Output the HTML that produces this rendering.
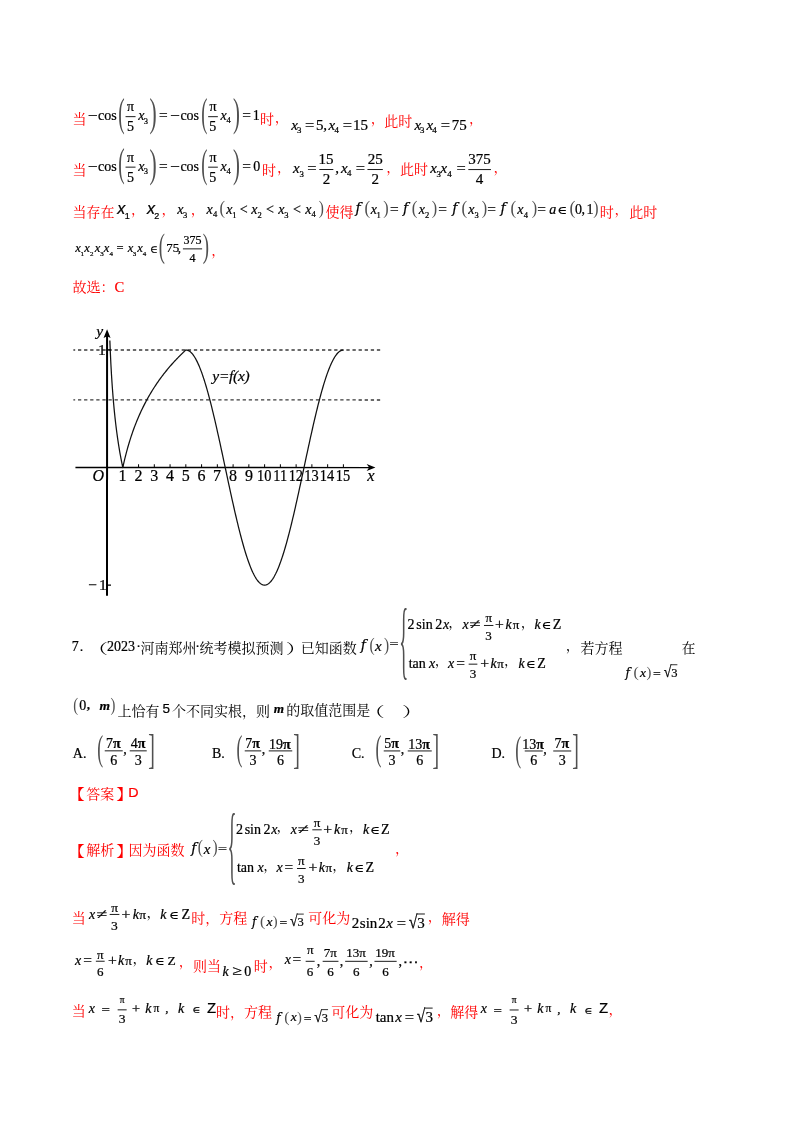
<!DOCTYPE html>
<html><head><meta charset="utf-8"><title>math</title>
<style>
html,body{margin:0;padding:0;background:#fff;}
body{width:800px;height:1132px;overflow:hidden;}
svg{display:block;}
text{fill:#000;}
.m,.mi,.mb,.mbi,.mx,.mxi,.s,.si,.dsans{stroke:#000;stroke-width:0.22px;}
.m,.mb,.mi{font-family:"Liberation Serif","DejaVu Serif",serif;}
.mi{font-style:italic;}
.mb{font-weight:bold;}
.mbi{font-family:"Liberation Serif","DejaVu Serif",serif;font-weight:bold;font-style:italic;}
.mx{font-family:"DejaVu Serif","Liberation Serif",serif;}
.dsans{font-family:"DejaVu Sans",sans-serif;}
.mxi{font-family:"DejaVu Serif",serif;font-style:italic;}
.s{font-family:"Liberation Sans",sans-serif;}
.si{font-family:"Liberation Sans",sans-serif;font-style:italic;}
.c{font-family:"Liberation Serif","Noto Serif CJK SC",serif;}
.c,.cs{stroke:none !important;}
.cs{font-family:"Liberation Sans","Noto Sans CJK SC",sans-serif;}
</style></head><body>
<svg width="800" height="1132" viewBox="0 0 800 1132">
<rect width="800" height="1132" fill="#fff"/>
<g transform="rotate(0.02)">
<text x="72.49" y="124.46" font-size="14" class="c" style="fill:#f00;stroke:#f00">当</text>
<text transform="translate(88.12,120.00) scale(1.25,1)" x="0" y="0" font-size="14" class="m">−</text>
<text x="98.04" y="120.00" font-size="14" class="m">cos</text>
<text transform="translate(118.23,98.80) scale(1.068,2.185)" x="0" y="12.42" font-size="18" class="m" style="fill:#505050;stroke:none">(</text>
<line x1="125.60" y1="116.60" x2="135.60" y2="116.60" stroke="#000" stroke-width="0.9"/>
<text x="127.10" y="111.04" font-size="14"><tspan class="m">π</tspan></text>
<text x="126.96" y="131.06" font-size="14" class="m">5</text>
<text x="138.34" y="120.00" font-size="14" class="mi">x</text>
<text x="143.77" y="123.52" font-size="8.5" class="m">3</text>
<text transform="translate(149.55,98.60) scale(1.197,2.222)" x="0" y="12.42" font-size="18" class="m" style="fill:#505050;stroke:none">)</text>
<text transform="translate(159.03,120.00) scale(1.1,1)" x="0" y="0" font-size="14" class="m">=</text>
<text transform="translate(170.32,120.00) scale(1.25,1)" x="0" y="0" font-size="14" class="m">−</text>
<text x="180.44" y="120.00" font-size="14" class="m">cos</text>
<text transform="translate(201.26,99.00) scale(1.026,2.185)" x="0" y="12.42" font-size="18" class="m" style="fill:#505050;stroke:none">(</text>
<line x1="208.20" y1="116.60" x2="217.90" y2="116.60" stroke="#000" stroke-width="0.9"/>
<text x="209.55" y="111.04" font-size="14"><tspan class="m">π</tspan></text>
<text x="209.41" y="131.06" font-size="14" class="m">5</text>
<text x="220.64" y="120.00" font-size="14" class="mi">x</text>
<text x="226.63" y="123.40" font-size="8.5" class="m">4</text>
<text transform="translate(232.98,99.00) scale(1.154,2.185)" x="0" y="12.42" font-size="18" class="m" style="fill:#505050;stroke:none">)</text>
<text transform="translate(242.23,120.00) scale(1.1,1)" x="0" y="0" font-size="14" class="m">=</text>
<text x="252.74" y="120.00" font-size="14" class="m">1</text>
<text x="259.98" y="124.42" font-size="14" class="c" style="fill:#f00;stroke:#f00">时</text>
<text x="274.88" y="121.68" font-size="14" class="c" style="fill:#f00;stroke:#f00">，</text>
<text x="72.49" y="174.96" font-size="14" class="c" style="fill:#f00;stroke:#f00">当</text>
<text transform="translate(88.12,170.50) scale(1.25,1)" x="0" y="0" font-size="14" class="m">−</text>
<text x="98.04" y="170.50" font-size="14" class="m">cos</text>
<text transform="translate(118.23,149.30) scale(1.068,2.185)" x="0" y="12.42" font-size="18" class="m" style="fill:#505050;stroke:none">(</text>
<line x1="125.60" y1="167.10" x2="135.60" y2="167.10" stroke="#000" stroke-width="0.9"/>
<text x="127.10" y="161.54" font-size="14"><tspan class="m">π</tspan></text>
<text x="126.96" y="181.56" font-size="14" class="m">5</text>
<text x="138.34" y="170.50" font-size="14" class="mi">x</text>
<text x="143.77" y="174.01" font-size="8.5" class="m">3</text>
<text transform="translate(149.55,149.10) scale(1.197,2.222)" x="0" y="12.42" font-size="18" class="m" style="fill:#505050;stroke:none">)</text>
<text transform="translate(159.03,170.50) scale(1.1,1)" x="0" y="0" font-size="14" class="m">=</text>
<text transform="translate(170.32,170.50) scale(1.25,1)" x="0" y="0" font-size="14" class="m">−</text>
<text x="180.44" y="170.50" font-size="14" class="m">cos</text>
<text transform="translate(201.26,149.50) scale(1.026,2.185)" x="0" y="12.42" font-size="18" class="m" style="fill:#505050;stroke:none">(</text>
<line x1="208.20" y1="167.10" x2="217.90" y2="167.10" stroke="#000" stroke-width="0.9"/>
<text x="209.55" y="161.54" font-size="14"><tspan class="m">π</tspan></text>
<text x="209.41" y="181.56" font-size="14" class="m">5</text>
<text x="220.64" y="170.50" font-size="14" class="mi">x</text>
<text x="226.63" y="173.90" font-size="8.5" class="m">4</text>
<text transform="translate(232.98,149.50) scale(1.154,2.185)" x="0" y="12.42" font-size="18" class="m" style="fill:#505050;stroke:none">)</text>
<text transform="translate(242.23,170.50) scale(1.1,1)" x="0" y="0" font-size="14" class="m">=</text>
<text x="253.24" y="170.50" font-size="14" class="m">0</text>
<text x="261.98" y="174.92" font-size="14" class="c" style="fill:#f00;stroke:#f00">时</text>
<text x="276.98" y="172.18" font-size="14" class="c" style="fill:#f00;stroke:#f00">，</text>
<text x="291.35" y="129.70" font-size="15" class="mi">x</text>
<text x="297.16" y="132.51" font-size="8.8" class="m">3</text>
<text transform="translate(304.98,129.70) scale(1.1,1)" x="0" y="0" font-size="15" class="m">=</text>
<text x="316.10" y="129.70" font-size="15" class="m">5</text>
<text x="323.20" y="129.70" font-size="15" class="m">,</text>
<text x="328.55" y="129.70" font-size="15" class="mi">x</text>
<text x="334.62" y="132.80" font-size="8.8" class="m">4</text>
<text transform="translate(342.68,129.70) scale(1.1,1)" x="0" y="0" font-size="15" class="m">=</text>
<text x="352.95" y="129.70" font-size="15" class="m">15</text>
<text x="370.68" y="122.48" font-size="14" class="c" style="fill:#f00;stroke:#f00">，</text>
<text x="384.24" y="125.96" font-size="14" class="c" style="fill:#f00;stroke:#f00">此时</text>
<text x="414.55" y="129.70" font-size="15" class="mi">x</text>
<text x="420.16" y="132.61" font-size="8.8" class="m">3</text>
<text x="426.45" y="129.70" font-size="15" class="mi">x</text>
<text x="432.32" y="133.00" font-size="8.8" class="m">4</text>
<text transform="translate(440.78,129.70) scale(1.1,1)" x="0" y="0" font-size="15" class="m">=</text>
<text x="451.70" y="129.70" font-size="15" class="m">75</text>
<text x="468.98" y="122.48" font-size="14" class="c" style="fill:#f00;stroke:#f00">，</text>
<text x="293.05" y="173.00" font-size="15" class="mi">x</text>
<text x="299.56" y="176.51" font-size="8.8" class="m">3</text>
<text transform="translate(307.38,173.00) scale(1.1,1)" x="0" y="0" font-size="15" class="m">=</text>
<line x1="319.40" y1="169.40" x2="333.40" y2="169.40" stroke="#000" stroke-width="0.9"/>
<text x="318.52" y="163.85" font-size="15" class="m">15</text>
<text x="322.72" y="183.90" font-size="15" class="m">2</text>
<text x="335.40" y="173.00" font-size="15" class="m">,</text>
<text x="341.15" y="173.00" font-size="15" class="mi">x</text>
<text x="347.12" y="175.90" font-size="8.8" class="m">4</text>
<text transform="translate(355.88,173.00) scale(1.1,1)" x="0" y="0" font-size="15" class="m">=</text>
<line x1="367.50" y1="169.40" x2="382.90" y2="169.40" stroke="#000" stroke-width="0.9"/>
<text x="367.70" y="163.85" font-size="15" class="m">25</text>
<text x="371.52" y="183.80" font-size="15" class="m">2</text>
<text x="386.38" y="172.28" font-size="14" class="c" style="fill:#f00;stroke:#f00">，</text>
<text x="400.04" y="173.56" font-size="14" class="c" style="fill:#f00;stroke:#f00">此时</text>
<text x="430.35" y="173.00" font-size="15" class="mi">x</text>
<text x="436.46" y="176.41" font-size="8.8" class="m">3</text>
<text x="440.55" y="173.00" font-size="15" class="mi">x</text>
<text x="447.42" y="176.80" font-size="8.8" class="m">4</text>
<text transform="translate(456.48,173.00) scale(1.1,1)" x="0" y="0" font-size="15" class="m">=</text>
<line x1="468.40" y1="169.40" x2="491.00" y2="169.40" stroke="#000" stroke-width="0.9"/>
<text x="468.38" y="163.80" font-size="15" class="m">375</text>
<text x="475.88" y="183.70" font-size="15" class="m">4</text>
<text x="493.68" y="172.28" font-size="14" class="c" style="fill:#f00;stroke:#f00">，</text>
<text x="72.64" y="216.96" font-size="14" class="c" style="fill:#f00;stroke:#f00">当存在</text>
<text x="117.44" y="214.00" font-size="16" class="si">x</text>
<text x="124.78" y="218.50" font-size="9" class="s">1</text>
<text x="131.08" y="214.28" font-size="14" class="c" style="fill:#f00;stroke:#f00">，</text>
<text x="147.14" y="214.00" font-size="16" class="si">x</text>
<text x="154.25" y="218.50" font-size="9" class="s">2</text>
<text x="161.48" y="214.28" font-size="14" class="c" style="fill:#f00;stroke:#f00">，</text>
<text x="177.24" y="213.90" font-size="14" class="mi">x</text>
<text x="183.17" y="217.51" font-size="8.5" class="m">3</text>
<text x="190.88" y="213.88" font-size="14" class="c" style="fill:#f00;stroke:#f00">，</text>
<text x="206.54" y="213.90" font-size="14" class="mi">x</text>
<text x="213.13" y="217.20" font-size="8.5" class="m">4</text>
<text transform="translate(219.64,200.20) scale(1.034,1.215)" x="0" y="11.04" font-size="16" class="m" style="fill:#505050;stroke:none">(</text>
<text x="226.24" y="213.90" font-size="14" class="mi">x</text>
<text x="232.24" y="217.60" font-size="8.5" class="m">1</text>
<text x="239.90" y="213.90" font-size="14" class="m">&lt;</text>
<text x="251.34" y="213.90" font-size="14" class="mi">x</text>
<text x="257.46" y="217.60" font-size="8.5" class="m">2</text>
<text x="266.10" y="213.90" font-size="14" class="m">&lt;</text>
<text x="278.34" y="213.90" font-size="14" class="mi">x</text>
<text x="284.38" y="217.51" font-size="8.5" class="m">3</text>
<text x="293.10" y="213.90" font-size="14" class="m">&lt;</text>
<text x="305.34" y="213.90" font-size="14" class="mi">x</text>
<text x="311.63" y="217.40" font-size="8.5" class="m">4</text>
<text transform="translate(318.74,200.20) scale(0.962,1.215)" x="0" y="11.04" font-size="16" class="m" style="fill:#505050;stroke:none">)</text>
<text x="325.64" y="216.96" font-size="14" class="c" style="fill:#f00;stroke:#f00">使得</text>
<text x="355.64" y="212.64" font-size="14" class="mxi">f</text>
<text transform="translate(364.52,200.20) scale(1.058,1.215)" x="0" y="11.04" font-size="16" class="m" style="fill:#505050;stroke:none">(</text>
<text x="370.74" y="213.90" font-size="14" class="mi">x</text>
<text x="376.54" y="217.50" font-size="8.5" class="m">1</text>
<text transform="translate(383.32,200.20) scale(1.010,1.215)" x="0" y="11.04" font-size="16" class="m" style="fill:#505050;stroke:none">)</text>
<text x="403.04" y="212.64" font-size="14" class="mxi">f</text>
<text transform="translate(411.92,200.20) scale(1.058,1.215)" x="0" y="11.04" font-size="16" class="m" style="fill:#505050;stroke:none">(</text>
<text x="418.84" y="213.90" font-size="14" class="mi">x</text>
<text x="425.06" y="217.50" font-size="8.5" class="m">2</text>
<text transform="translate(431.72,200.20) scale(1.010,1.215)" x="0" y="11.04" font-size="16" class="m" style="fill:#505050;stroke:none">)</text>
<text x="452.44" y="212.64" font-size="14" class="mxi">f</text>
<text transform="translate(461.52,200.20) scale(1.058,1.215)" x="0" y="11.04" font-size="16" class="m" style="fill:#505050;stroke:none">(</text>
<text x="468.34" y="213.90" font-size="14" class="mi">x</text>
<text x="474.47" y="217.41" font-size="8.5" class="m">3</text>
<text transform="translate(481.72,200.20) scale(1.010,1.215)" x="0" y="11.04" font-size="16" class="m" style="fill:#505050;stroke:none">)</text>
<text x="500.64" y="212.64" font-size="14" class="mxi">f</text>
<text transform="translate(510.52,200.20) scale(1.058,1.215)" x="0" y="11.04" font-size="16" class="m" style="fill:#505050;stroke:none">(</text>
<text x="517.34" y="213.90" font-size="14" class="mi">x</text>
<text x="523.73" y="217.50" font-size="8.5" class="m">4</text>
<text transform="translate(531.72,200.20) scale(1.010,1.215)" x="0" y="11.04" font-size="16" class="m" style="fill:#505050;stroke:none">)</text>
<text transform="translate(390.03,213.90) scale(1.1,1)" x="0" y="0" font-size="14" class="m">=</text>
<text transform="translate(438.43,213.90) scale(1.1,1)" x="0" y="0" font-size="14" class="m">=</text>
<text transform="translate(487.43,213.90) scale(1.1,1)" x="0" y="0" font-size="14" class="m">=</text>
<text transform="translate(537.43,213.90) scale(1.1,1)" x="0" y="0" font-size="14" class="m">=</text>
<text x="549.28" y="213.90" font-size="14" class="mi">a</text>
<text transform="translate(557.58,213.90) scale(1.15,1)" x="0" y="0" font-size="11.5" class="mx">∈</text>
<text transform="translate(569.49,200.20) scale(1.106,1.215)" x="0" y="11.04" font-size="16" class="m" style="fill:#505050;stroke:none">(</text>
<text x="575.04" y="213.90" font-size="14" class="m">0</text>
<text x="581.64" y="213.90" font-size="14" class="m">,</text>
<text x="586.54" y="213.90" font-size="14" class="m">1</text>
<text transform="translate(593.43,200.20) scale(0.986,1.215)" x="0" y="11.04" font-size="16" class="m" style="fill:#505050;stroke:none">)</text>
<text x="599.78" y="217.02" font-size="14" class="c" style="fill:#f00;stroke:#f00">时</text>
<text x="614.68" y="214.28" font-size="14" class="c" style="fill:#f00;stroke:#f00">，</text>
<text x="629.24" y="217.16" font-size="14" class="c" style="fill:#f00;stroke:#f00">此时</text>
<text x="75.33" y="252.30" font-size="12.5" class="mi">x</text>
<text x="80.57" y="255.60" font-size="7" class="m">1</text>
<text x="84.42" y="252.30" font-size="12.5" class="mi">x</text>
<text x="90.02" y="255.60" font-size="7" class="m">2</text>
<text x="94.72" y="252.30" font-size="12.5" class="mi">x</text>
<text x="100.25" y="255.53" font-size="7" class="m">3</text>
<text x="103.83" y="252.30" font-size="12.5" class="mi">x</text>
<text x="109.56" y="255.60" font-size="7" class="m">4</text>
<text x="116.58" y="252.30" font-size="12.5" class="m">=</text>
<text x="127.83" y="252.30" font-size="12.5" class="mi">x</text>
<text x="132.85" y="255.53" font-size="7" class="m">3</text>
<text x="137.32" y="252.30" font-size="12.5" class="mi">x</text>
<text x="142.86" y="255.60" font-size="7" class="m">4</text>
<text x="150.15" y="252.60" font-size="10.5" class="mx">∈</text>
<text transform="translate(158.86,233.20) scale(1.154,2.167)" x="0" y="11.04" font-size="16" class="m" style="fill:#505050;stroke:none">(</text>
<text x="166.22" y="252.30" font-size="13" class="m">75</text>
<text x="177.78" y="252.30" font-size="13" class="m">,</text>
<line x1="183.00" y1="248.80" x2="202.20" y2="248.80" stroke="#000" stroke-width="0.9"/>
<text x="183.54" y="243.82" font-size="12" class="m">375</text>
<text x="189.54" y="261.90" font-size="12" class="m">4</text>
<text transform="translate(202.73,233.20) scale(1.178,2.167)" x="0" y="11.04" font-size="16" class="m" style="fill:#505050;stroke:none">)</text>
<text x="211.38" y="255.28" font-size="14" class="c" style="fill:#f00;stroke:#f00">，</text>
<text x="72.64" y="292.46" font-size="14" class="c" style="fill:#f00;stroke:#f00">故选：</text>
<text x="114.62" y="291.77" font-size="14.5" class="m" style="fill:#f00;stroke:#f00">C</text>
<line x1="73.5" y1="349.9" x2="380.8" y2="349.9" stroke="#3a3a3a" stroke-width="1.4" stroke-dasharray="3.3 2.8" stroke-dashoffset="1.5"/>
<line x1="73.5" y1="399.8" x2="380.8" y2="399.8" stroke="#3a3a3a" stroke-width="1.4" stroke-dasharray="3.3 2.8" stroke-dashoffset="1.5"/>
<line x1="107.2" y1="595.8" x2="107.2" y2="335" stroke="#000" stroke-width="2"/>
<path d="M107.2 329.3 L110.7 338 L107.2 336.3 L103.7 338 Z" fill="#000"/>
<line x1="75.6" y1="467.45" x2="372" y2="467.45" stroke="#000" stroke-width="1.4"/>
<path d="M375.6 467.45 L366.8 463.95 L369.3 467.45 L366.8 470.95 Z" fill="#000"/>
<line x1="122.96" y1="464.15" x2="122.96" y2="467.45" stroke="#000" stroke-width="1"/>
<line x1="138.71" y1="464.15" x2="138.71" y2="467.45" stroke="#000" stroke-width="1"/>
<line x1="154.47" y1="464.15" x2="154.47" y2="467.45" stroke="#000" stroke-width="1"/>
<line x1="170.23" y1="464.15" x2="170.23" y2="467.45" stroke="#000" stroke-width="1"/>
<line x1="185.99" y1="464.15" x2="185.99" y2="467.45" stroke="#000" stroke-width="1"/>
<line x1="201.74" y1="464.15" x2="201.74" y2="467.45" stroke="#000" stroke-width="1"/>
<line x1="217.50" y1="464.15" x2="217.50" y2="467.45" stroke="#000" stroke-width="1"/>
<line x1="233.26" y1="464.15" x2="233.26" y2="467.45" stroke="#000" stroke-width="1"/>
<line x1="249.01" y1="464.15" x2="249.01" y2="467.45" stroke="#000" stroke-width="1"/>
<line x1="264.77" y1="464.15" x2="264.77" y2="467.45" stroke="#000" stroke-width="1"/>
<line x1="280.53" y1="464.15" x2="280.53" y2="467.45" stroke="#000" stroke-width="1"/>
<line x1="296.29" y1="464.15" x2="296.29" y2="467.45" stroke="#000" stroke-width="1"/>
<line x1="312.04" y1="464.15" x2="312.04" y2="467.45" stroke="#000" stroke-width="1"/>
<line x1="327.80" y1="464.15" x2="327.80" y2="467.45" stroke="#000" stroke-width="1"/>
<line x1="343.56" y1="464.15" x2="343.56" y2="467.45" stroke="#000" stroke-width="1"/>
<line x1="107.2" y1="585.1" x2="111.2" y2="585.1" stroke="#000" stroke-width="1.3"/>
<line x1="107.2" y1="349.9" x2="111.2" y2="349.9" stroke="#000" stroke-width="1.3"/>
<path d="M109.97 340.56 L110.24 347.23 L110.50 353.34 L110.77 358.97 L111.03 364.20 L111.30 369.09 L111.56 373.66 L111.83 377.97 L112.09 382.03 L112.36 385.89 L112.62 389.54 L112.89 393.03 L113.15 396.35 L113.42 399.54 L113.68 402.58 L113.95 405.51 L114.21 408.32 L114.48 411.03 L114.74 413.64 L115.01 416.17 L115.27 418.60 L115.54 420.96 L115.80 423.25 L116.07 425.46 L116.33 427.61 L116.60 429.70 L116.86 431.73 L117.13 433.71 L117.39 435.63 L117.66 437.51 L117.92 439.33 L118.19 441.12 L118.45 442.86 L118.72 444.56 L118.98 446.22 L119.25 447.84 L119.51 449.43 L119.78 450.99 L120.04 452.51 L120.31 454.00 L120.57 455.46 L120.84 456.90 L121.10 458.30 L121.37 459.68 L121.63 461.04 L121.90 462.36 L122.16 463.67 L122.43 464.95 L122.69 466.21 L122.96 467.45 L123.59 464.56 L124.23 461.77 L124.87 459.09 L125.50 456.51 L126.14 454.01 L126.78 451.60 L127.41 449.26 L128.05 446.99 L128.69 444.80 L129.32 442.66 L129.96 440.59 L130.60 438.58 L131.23 436.62 L131.87 434.71 L132.51 432.85 L133.14 431.03 L133.78 429.26 L134.42 427.53 L135.05 425.84 L135.69 424.19 L136.33 422.58 L136.96 421.00 L137.60 419.45 L138.24 417.94 L138.87 416.46 L139.51 415.00 L140.15 413.58 L140.78 412.18 L141.42 410.81 L142.06 409.46 L142.69 408.14 L143.33 406.84 L143.97 405.57 L144.60 404.31 L145.24 403.08 L145.88 401.87 L146.51 400.67 L147.15 399.50 L147.79 398.35 L148.42 397.21 L149.06 396.09 L149.70 394.99 L150.33 393.90 L150.97 392.83 L151.61 391.78 L152.24 390.74 L152.88 389.71 L153.52 388.70 L154.15 387.70 L154.79 386.72 L155.43 385.75 L156.06 384.79 L156.70 383.85 L157.34 382.91 L157.97 381.99 L158.61 381.08 L159.25 380.18 L159.88 379.29 L160.52 378.42 L161.16 377.55 L161.79 376.69 L162.43 375.85 L163.07 375.01 L163.70 374.18 L164.34 373.36 L164.98 372.55 L165.61 371.75 L166.25 370.96 L166.89 370.18 L167.52 369.40 L168.16 368.64 L168.80 367.88 L169.43 367.13 L170.07 366.38 L170.71 365.65 L171.34 364.92 L171.98 364.20 L172.62 363.48 L173.25 362.78 L173.89 362.07 L174.53 361.38 L175.16 360.69 L175.80 360.01 L176.44 359.34 L177.07 358.67 L177.71 358.01 L178.35 357.35 L178.98 356.70 L179.62 356.05 L180.26 355.41 L180.89 354.78 L181.53 354.15 L182.17 353.53 L182.80 352.91 L183.44 352.30 L184.08 351.69 L184.71 351.09 L185.35 350.49 L185.99 349.90 L186.62 349.94 L187.25 350.05 L187.88 350.24 L188.52 350.50 L189.15 350.83 L189.78 351.24 L190.42 351.73 L191.05 352.29 L191.68 352.92 L192.31 353.62 L192.95 354.40 L193.58 355.25 L194.21 356.17 L194.85 357.16 L195.48 358.22 L196.11 359.35 L196.74 360.55 L197.38 361.82 L198.01 363.15 L198.64 364.55 L199.27 366.02 L199.91 367.55 L200.54 369.15 L201.17 370.81 L201.81 372.52 L202.44 374.30 L203.07 376.14 L203.70 378.04 L204.34 379.99 L204.97 382.00 L205.60 384.07 L206.24 386.18 L206.87 388.35 L207.50 390.57 L208.13 392.84 L208.77 395.16 L209.40 397.52 L210.03 399.92 L210.67 402.37 L211.30 404.86 L211.93 407.40 L212.56 409.96 L213.20 412.57 L213.83 415.21 L214.46 417.88 L215.10 420.59 L215.73 423.32 L216.36 426.09 L216.99 428.88 L217.63 431.69 L218.26 434.53 L218.89 437.38 L219.53 440.26 L220.16 443.16 L220.79 446.06 L221.42 448.99 L222.06 451.92 L222.69 454.87 L223.32 457.82 L223.95 460.78 L224.59 463.74 L225.22 466.71 L225.85 469.67 L226.49 472.64 L227.12 475.60 L227.75 478.56 L228.38 481.51 L229.02 484.45 L229.65 487.38 L230.28 490.29 L230.92 493.19 L231.55 496.08 L232.18 498.95 L232.81 501.79 L233.45 504.62 L234.08 507.42 L234.71 510.20 L235.35 512.95 L235.98 515.67 L236.61 518.36 L237.24 521.01 L237.88 523.64 L238.51 526.23 L239.14 528.77 L239.78 531.29 L240.41 533.76 L241.04 536.18 L241.67 538.57 L242.31 540.91 L242.94 543.20 L243.57 545.44 L244.20 547.64 L244.84 549.78 L245.47 551.87 L246.10 553.91 L246.74 555.89 L247.37 557.82 L248.00 559.68 L248.63 561.49 L249.27 563.24 L249.90 564.93 L250.53 566.56 L251.17 568.12 L251.80 569.62 L252.43 571.05 L253.06 572.42 L253.70 573.72 L254.33 574.96 L254.96 576.12 L255.60 577.22 L256.23 578.25 L256.86 579.20 L257.49 580.09 L258.13 580.90 L258.76 581.64 L259.39 582.31 L260.03 582.90 L260.66 583.42 L261.29 583.87 L261.92 584.24 L262.56 584.54 L263.19 584.77 L263.82 584.92 L264.46 584.99 L265.09 584.99 L265.72 584.92 L266.35 584.77 L266.99 584.54 L267.62 584.24 L268.25 583.87 L268.88 583.42 L269.52 582.90 L270.15 582.31 L270.78 581.64 L271.42 580.90 L272.05 580.09 L272.68 579.20 L273.31 578.25 L273.95 577.22 L274.58 576.12 L275.21 574.96 L275.85 573.72 L276.48 572.42 L277.11 571.05 L277.74 569.62 L278.38 568.12 L279.01 566.56 L279.64 564.93 L280.28 563.24 L280.91 561.49 L281.54 559.68 L282.17 557.82 L282.81 555.89 L283.44 553.91 L284.07 551.87 L284.71 549.78 L285.34 547.64 L285.97 545.44 L286.60 543.20 L287.24 540.91 L287.87 538.57 L288.50 536.18 L289.13 533.76 L289.77 531.29 L290.40 528.77 L291.03 526.22 L291.67 523.64 L292.30 521.01 L292.93 518.36 L293.56 515.67 L294.20 512.95 L294.83 510.20 L295.46 507.42 L296.10 504.62 L296.73 501.79 L297.36 498.95 L297.99 496.08 L298.63 493.19 L299.26 490.29 L299.89 487.38 L300.53 484.45 L301.16 481.51 L301.79 478.56 L302.42 475.60 L303.06 472.64 L303.69 469.67 L304.32 466.71 L304.96 463.74 L305.59 460.78 L306.22 457.82 L306.85 454.87 L307.49 451.92 L308.12 448.99 L308.75 446.06 L309.39 443.16 L310.02 440.26 L310.65 437.38 L311.28 434.53 L311.92 431.69 L312.55 428.88 L313.18 426.09 L313.81 423.32 L314.45 420.59 L315.08 417.88 L315.71 415.21 L316.35 412.57 L316.98 409.96 L317.61 407.40 L318.24 404.86 L318.88 402.37 L319.51 399.92 L320.14 397.52 L320.78 395.16 L321.41 392.84 L322.04 390.57 L322.67 388.35 L323.31 386.18 L323.94 384.07 L324.57 382.00 L325.21 379.99 L325.84 378.04 L326.47 376.14 L327.10 374.30 L327.74 372.52 L328.37 370.81 L329.00 369.15 L329.64 367.55 L330.27 366.02 L330.90 364.55 L331.53 363.15 L332.17 361.82 L332.80 360.55 L333.43 359.35 L334.06 358.22 L334.70 357.16 L335.33 356.17 L335.96 355.25 L336.60 354.40 L337.23 353.62 L337.86 352.92 L338.49 352.29 L339.13 351.73 L339.76 351.24 L340.39 350.83 L341.03 350.50 L341.66 350.24 L342.29 350.05 L342.92 349.94 L343.56 349.90" fill="none" stroke="#111" stroke-width="1.25" stroke-linejoin="round"/>
<text x="118.72" y="481.00" font-size="16" class="m">1</text>
<text x="134.79" y="481.00" font-size="16" class="m">2</text>
<text x="150.39" y="481.00" font-size="16" class="m">3</text>
<text x="166.15" y="481.00" font-size="16" class="m">4</text>
<text x="181.83" y="481.00" font-size="16" class="m">5</text>
<text x="197.66" y="481.00" font-size="16" class="m">6</text>
<text x="213.26" y="481.00" font-size="16" class="m">7</text>
<text x="229.26" y="481.00" font-size="16" class="m">8</text>
<text x="245.09" y="481.00" font-size="16" class="m">9</text>
<text transform="translate(257.21,481.00) scale(0.9,1)" x="0" y="0" font-size="16" class="m">10</text>
<text transform="translate(273.40,481.00) scale(0.9,1)" x="0" y="0" font-size="16" class="m">11</text>
<text transform="translate(288.80,481.00) scale(0.9,1)" x="0" y="0" font-size="16" class="m">12</text>
<text transform="translate(304.48,481.00) scale(0.9,1)" x="0" y="0" font-size="16" class="m">13</text>
<text transform="translate(320.02,481.00) scale(0.9,1)" x="0" y="0" font-size="16" class="m">14</text>
<text transform="translate(336.00,481.00) scale(0.9,1)" x="0" y="0" font-size="16" class="m">15</text>
<text x="92.60" y="481.06" font-size="16" class="mi">O</text>
<text x="367.47" y="480.80" font-size="16.5" class="mi">x</text>
<text x="96.44" y="336.13" font-size="15.5" class="mi">y</text>
<text x="98.11" y="354.97" font-size="15.5" class="m">1</text>
<text x="88.42" y="589.90" font-size="15.5" class="m">−</text>
<text x="99.31" y="589.58" font-size="15.5" class="m">1</text>
<text x="212.44" y="380.45" font-size="15.5" class="mi" letter-spacing="-0.3">y=f(x)</text>
<text x="71.86" y="651.00" font-size="14" class="m">7</text>
<text x="80.02" y="651.00" font-size="14" class="m">.</text>
<text transform="translate(87.25,652.96) scale(1.5,1)" x="0" y="0" font-size="14" class="c">（</text>
<text x="107.34" y="651.00" font-size="14" class="m">2023</text>
<text x="136.36" y="650.50" font-size="14" class="m">·</text>
<text x="140.64" y="652.84" font-size="14" class="c">河南郑州</text>
<text x="195.46" y="650.50" font-size="14" class="m">·</text>
<text x="199.84" y="652.70" font-size="14" class="c">统考模拟预测</text>
<text transform="translate(285.94,652.96) scale(1.5,1)" x="0" y="0" font-size="14" class="c">）</text>
<text x="300.94" y="652.56" font-size="14" class="c">已知函数</text>
<text x="361.04" y="649.74" font-size="14" class="mxi">f</text>
<text transform="translate(369.78,637.00) scale(0.962,1.215)" x="0" y="11.04" font-size="16" class="m" style="fill:#505050;stroke:none">(</text>
<text x="375.15" y="651.00" font-size="15" class="mi">x</text>
<text transform="translate(384.14,637.00) scale(0.962,1.215)" x="0" y="11.04" font-size="16" class="m" style="fill:#505050;stroke:none">)</text>
<text transform="translate(389.80,646.51) scale(1.45,1)" x="0" y="0" font-size="11" class="m">=</text>
<text transform="translate(399.52,607.90) scale(1.167,5.457)" x="0" y="11.04" font-size="16" class="m" style="fill:#505050;stroke:none">{</text>
<text x="407.84" y="629.10" font-size="14" class="m">2</text>
<text x="416.54" y="629.10" font-size="14" class="m">sin</text>
<text x="435.44" y="629.10" font-size="14" class="m">2</text>
<text x="443.14" y="629.10" font-size="14" class="mi">x</text>
<text x="448.38" y="626.80" font-size="14" class="c">，</text>
<text x="462.74" y="629.10" font-size="14" class="mi">x</text>
<text transform="translate(469.69,629.10) scale(1.45,1)" x="0" y="0" font-size="14" class="m">≠</text>
<line x1="484.20" y1="625.30" x2="493.60" y2="625.30" stroke="#000" stroke-width="0.9"/>
<text x="485.65" y="622.18" font-size="13" class="m">π</text>
<text x="485.58" y="640.17" font-size="13" class="m">3</text>
<text transform="translate(495.22,629.10) scale(1.12,1)" x="0" y="0" font-size="14" class="m">+</text>
<text x="505.78" y="629.10" font-size="14" class="mi">k</text>
<text x="513.07" y="629.10" font-size="13" class="m">π</text>
<text x="520.88" y="626.80" font-size="14" class="c">，</text>
<text x="534.78" y="629.10" font-size="14" class="mi">k</text>
<text transform="translate(542.08,629.10) scale(1.15,1)" x="0" y="0" font-size="11.5" class="mx">∈</text>
<text x="552.90" y="629.10" font-size="14" class="m">Z</text>
<text x="408.86" y="667.40" font-size="14" class="m">tan</text>
<text x="429.34" y="667.40" font-size="14" class="mi">x</text>
<text x="435.08" y="665.20" font-size="14" class="c">，</text>
<text x="448.34" y="667.40" font-size="14" class="mi">x</text>
<text transform="translate(456.43,667.40) scale(1.1,1)" x="0" y="0" font-size="14" class="m">=</text>
<line x1="468.90" y1="664.00" x2="477.60" y2="664.00" stroke="#000" stroke-width="0.9"/>
<text x="470.00" y="660.18" font-size="13" class="m">π</text>
<text x="469.94" y="678.07" font-size="13" class="m">3</text>
<text transform="translate(480.42,667.40) scale(1.12,1)" x="0" y="0" font-size="14" class="m">+</text>
<text x="490.78" y="667.40" font-size="14" class="mi">k</text>
<text x="497.47" y="667.40" font-size="13" class="m">π</text>
<text x="504.28" y="665.20" font-size="14" class="c">，</text>
<text x="518.78" y="667.40" font-size="14" class="mi">k</text>
<text transform="translate(526.28,667.40) scale(1.15,1)" x="0" y="0" font-size="11.5" class="mx">∈</text>
<text x="537.50" y="667.40" font-size="14" class="m">Z</text>
<text x="566.08" y="649.40" font-size="14" class="c">，</text>
<text x="580.64" y="653.10" font-size="14" class="c">若方程</text>
<text x="681.64" y="652.96" font-size="14" class="c">在</text>
<text x="625.72" y="676.52" font-size="12" class="mxi">f</text>
<text transform="translate(633.77,666.20) scale(1.213,1.188)" x="0" y="8.97" font-size="13" class="m" style="fill:#505050;stroke:none">(</text>
<text x="640.24" y="676.40" font-size="13.5" class="mi">x</text>
<text transform="translate(646.66,666.20) scale(1.124,1.188)" x="0" y="8.97" font-size="13" class="m" style="fill:#505050;stroke:none">)</text>
<text transform="translate(653.21,677.52) scale(1.1,1)" x="0" y="0" font-size="12.5" class="m">=</text>
<text transform="translate(663.92,664.10) scale(1.102,1.270)" x="0" y="9.88" font-size="12.5" class="m">√</text>
<line x1="670.90" y1="664.50" x2="677.60" y2="664.50" stroke="#000" stroke-width="0.8"/>
<text x="671.38" y="676.40" font-size="12.5" class="m">3</text>
<text transform="translate(73.62,697.90) scale(0.913,1.181)" x="0" y="11.04" font-size="16" class="m" style="fill:#505050;stroke:none">(</text>
<text x="79.44" y="710.00" font-size="14" class="m">0</text>
<text x="86.97" y="709.05" font-size="13" class="mb">,</text>
<text x="99.73" y="710.00" font-size="13.5" class="mbi">m</text>
<text transform="translate(110.66,697.90) scale(0.913,1.181)" x="0" y="11.04" font-size="16" class="m" style="fill:#505050;stroke:none">)</text>
<text x="117.64" y="715.70" font-size="14" class="c">上恰有</text>
<text x="162.86" y="712.72" font-size="13.5" class="s">5</text>
<text x="172.34" y="715.50" font-size="14" class="c">个不同实根，则</text>
<text x="274.04" y="713.00" font-size="13.2" class="mbi">m</text>
<text x="286.54" y="715.36" font-size="14" class="c">的取值范围是</text>
<text transform="translate(363.95,715.96) scale(1.5,1)" x="0" y="0" font-size="14" class="c">（</text>
<text transform="translate(402.34,715.96) scale(1.5,1)" x="0" y="0" font-size="14" class="c">）</text>
<text x="73.06" y="758.00" font-size="14" class="m">A.</text>
<text transform="translate(97.49,735.20) scale(1.106,2.278)" x="0" y="11.04" font-size="16" class="m" style="fill:#505050;stroke:none">(</text>
<line x1="105.00" y1="750.80" x2="123.00" y2="750.80" stroke="#000" stroke-width="0.9"/>
<text x="106.30" y="748.30" font-size="14"><tspan class="m">7</tspan><tspan class="mb">π</tspan></text>
<text x="110.43" y="764.86" font-size="14" class="m">6</text>
<text x="123.64" y="754.00" font-size="14" class="m">,</text>
<line x1="130.00" y1="750.80" x2="147.00" y2="750.80" stroke="#000" stroke-width="0.9"/>
<text x="131.08" y="748.30" font-size="14"><tspan class="m">4</tspan><tspan class="mb">π</tspan></text>
<text x="134.93" y="764.86" font-size="14" class="m">3</text>
<text transform="translate(148.40,733.40) scale(1.250,2.652)" x="0" y="11.04" font-size="16" class="m" style="fill:#505050;stroke:none">]</text>
<text x="212.18" y="758.00" font-size="14" class="m">B.</text>
<text transform="translate(236.89,735.20) scale(1.106,2.278)" x="0" y="11.04" font-size="16" class="m" style="fill:#505050;stroke:none">(</text>
<line x1="245.00" y1="750.80" x2="261.50" y2="750.80" stroke="#000" stroke-width="0.9"/>
<text x="245.55" y="748.30" font-size="14"><tspan class="m">7</tspan><tspan class="mb">π</tspan></text>
<text x="249.68" y="764.86" font-size="14" class="m">3</text>
<text x="262.14" y="754.00" font-size="14" class="m">,</text>
<line x1="269.00" y1="750.80" x2="292.50" y2="750.80" stroke="#000" stroke-width="0.9"/>
<text x="269.34" y="748.44" font-size="14"><tspan class="m">19</tspan><tspan class="mb">π</tspan></text>
<text x="277.18" y="764.86" font-size="14" class="m">6</text>
<text transform="translate(293.40,733.40) scale(1.250,2.652)" x="0" y="11.04" font-size="16" class="m" style="fill:#505050;stroke:none">]</text>
<text x="352.04" y="758.00" font-size="14" class="m">C.</text>
<text transform="translate(375.89,735.20) scale(1.106,2.278)" x="0" y="11.04" font-size="16" class="m" style="fill:#505050;stroke:none">(</text>
<line x1="384.00" y1="750.80" x2="400.50" y2="750.80" stroke="#000" stroke-width="0.9"/>
<text x="384.55" y="748.30" font-size="14"><tspan class="m">5</tspan><tspan class="mb">π</tspan></text>
<text x="388.68" y="764.86" font-size="14" class="m">3</text>
<text x="401.14" y="754.00" font-size="14" class="m">,</text>
<line x1="408.00" y1="750.80" x2="432.00" y2="750.80" stroke="#000" stroke-width="0.9"/>
<text x="408.59" y="748.44" font-size="14"><tspan class="m">13</tspan><tspan class="mb">π</tspan></text>
<text x="416.43" y="764.86" font-size="14" class="m">6</text>
<text transform="translate(432.80,733.40) scale(1.250,2.652)" x="0" y="11.04" font-size="16" class="m" style="fill:#505050;stroke:none">]</text>
<text x="491.78" y="758.00" font-size="14" class="m">D.</text>
<text transform="translate(515.49,735.20) scale(1.106,2.278)" x="0" y="11.04" font-size="16" class="m" style="fill:#505050;stroke:none">(</text>
<line x1="525.00" y1="750.80" x2="543.00" y2="750.80" stroke="#000" stroke-width="0.9"/>
<text x="522.59" y="748.44" font-size="14"><tspan class="m">13</tspan><tspan class="mb">π</tspan></text>
<text x="530.43" y="764.86" font-size="14" class="m">6</text>
<text x="543.64" y="754.00" font-size="14" class="m">,</text>
<line x1="553.50" y1="750.80" x2="571.50" y2="750.80" stroke="#000" stroke-width="0.9"/>
<text x="554.80" y="748.30" font-size="14"><tspan class="m">7</tspan><tspan class="mb">π</tspan></text>
<text x="558.93" y="764.86" font-size="14" class="m">3</text>
<text transform="translate(572.40,733.40) scale(1.250,2.652)" x="0" y="11.04" font-size="16" class="m" style="fill:#505050;stroke:none">]</text>
<text transform="translate(68.38,799.10) scale(1.2,1)" x="0" y="0" font-size="14" class="c" style="fill:#f00;stroke:#f00">【</text>
<text x="86.64" y="799.10" font-size="14" class="c" style="fill:#f00;stroke:#f00">答案</text>
<text transform="translate(116.43,799.10) scale(1.2,1)" x="0" y="0" font-size="14" class="c" style="fill:#f00;stroke:#f00">】</text>
<text transform="translate(128.46,796.57) scale(1.1,1)" x="0" y="0" font-size="13" class="s" style="fill:#f00;stroke:#f00">D</text>
<text transform="translate(68.38,855.50) scale(1.2,1)" x="0" y="0" font-size="14" class="c" style="fill:#f00;stroke:#f00">【</text>
<text x="86.64" y="854.96" font-size="14" class="c" style="fill:#f00;stroke:#f00">解析</text>
<text transform="translate(116.43,855.50) scale(1.2,1)" x="0" y="0" font-size="14" class="c" style="fill:#f00;stroke:#f00">】</text>
<text x="128.80" y="854.96" font-size="14" class="c" style="fill:#f00;stroke:#f00">因为函数</text>
<text x="191.64" y="852.54" font-size="14" class="mxi">f</text>
<text transform="translate(197.98,839.80) scale(0.962,1.208)" x="0" y="11.04" font-size="16" class="m" style="fill:#505050;stroke:none">(</text>
<text x="203.95" y="853.80" font-size="15" class="mi">x</text>
<text transform="translate(212.74,839.80) scale(0.962,1.208)" x="0" y="11.04" font-size="16" class="m" style="fill:#505050;stroke:none">)</text>
<text transform="translate(218.40,851.51) scale(1.45,1)" x="0" y="0" font-size="11" class="m">=</text>
<text transform="translate(227.92,812.30) scale(1.167,5.457)" x="0" y="11.04" font-size="16" class="m" style="fill:#505050;stroke:none">{</text>
<text x="236.24" y="833.50" font-size="14" class="m">2</text>
<text x="244.94" y="833.50" font-size="14" class="m">sin</text>
<text x="263.84" y="833.50" font-size="14" class="m">2</text>
<text x="271.54" y="833.50" font-size="14" class="mi">x</text>
<text x="276.78" y="831.20" font-size="14" class="c">，</text>
<text x="291.14" y="833.50" font-size="14" class="mi">x</text>
<text transform="translate(298.09,833.50) scale(1.45,1)" x="0" y="0" font-size="14" class="m">≠</text>
<line x1="312.60" y1="829.70" x2="322.00" y2="829.70" stroke="#000" stroke-width="0.9"/>
<text x="314.05" y="826.58" font-size="13" class="m">π</text>
<text x="313.99" y="844.57" font-size="13" class="m">3</text>
<text transform="translate(323.62,833.50) scale(1.12,1)" x="0" y="0" font-size="14" class="m">+</text>
<text x="334.18" y="833.50" font-size="14" class="mi">k</text>
<text x="341.47" y="833.50" font-size="13" class="m">π</text>
<text x="349.28" y="831.20" font-size="14" class="c">，</text>
<text x="363.18" y="833.50" font-size="14" class="mi">k</text>
<text transform="translate(370.48,833.50) scale(1.15,1)" x="0" y="0" font-size="11.5" class="mx">∈</text>
<text x="381.30" y="833.50" font-size="14" class="m">Z</text>
<text x="237.26" y="871.80" font-size="14" class="m">tan</text>
<text x="257.74" y="871.80" font-size="14" class="mi">x</text>
<text x="263.48" y="869.60" font-size="14" class="c">，</text>
<text x="276.74" y="871.80" font-size="14" class="mi">x</text>
<text transform="translate(284.83,871.80) scale(1.1,1)" x="0" y="0" font-size="14" class="m">=</text>
<line x1="297.30" y1="868.40" x2="306.00" y2="868.40" stroke="#000" stroke-width="0.9"/>
<text x="298.40" y="864.58" font-size="13" class="m">π</text>
<text x="298.33" y="882.47" font-size="13" class="m">3</text>
<text transform="translate(308.82,871.80) scale(1.12,1)" x="0" y="0" font-size="14" class="m">+</text>
<text x="319.18" y="871.80" font-size="14" class="mi">k</text>
<text x="325.87" y="871.80" font-size="13" class="m">π</text>
<text x="332.68" y="869.60" font-size="14" class="c">，</text>
<text x="347.18" y="871.80" font-size="14" class="mi">k</text>
<text transform="translate(354.68,871.80) scale(1.15,1)" x="0" y="0" font-size="11.5" class="mx">∈</text>
<text x="365.90" y="871.80" font-size="14" class="m">Z</text>
<text x="395.38" y="853.28" font-size="14" class="c" style="fill:#f00;stroke:#f00">，</text>
<text x="72.14" y="922.56" font-size="14" class="c" style="fill:#f00;stroke:#f00">当</text>
<text x="89.34" y="918.60" font-size="14" class="mi">x</text>
<text transform="translate(96.82,918.60) scale(1.4,1)" x="0" y="0" font-size="14" class="m">≠</text>
<line x1="110.00" y1="914.40" x2="119.70" y2="914.40" stroke="#000" stroke-width="0.9"/>
<text x="111.47" y="911.81" font-size="13.5" class="m">π</text>
<text x="111.41" y="929.47" font-size="13.5" class="m">3</text>
<text transform="translate(121.82,918.60) scale(1.12,1)" x="0" y="0" font-size="14" class="m">+</text>
<text x="133.18" y="918.60" font-size="14" class="mi">k</text>
<text x="139.67" y="918.60" font-size="13.5" class="m">π</text>
<text x="146.78" y="916.60" font-size="14" class="c">，</text>
<text x="160.68" y="918.60" font-size="14" class="mi">k</text>
<text transform="translate(169.58,918.60) scale(1.15,1)" x="0" y="0" font-size="11.5" class="mx">∈</text>
<text x="181.80" y="918.60" font-size="14" class="m">Z</text>
<text x="191.68" y="923.10" font-size="14" class="c" style="fill:#f00;stroke:#f00">时，方程</text>
<text x="252.22" y="926.02" font-size="12" class="mxi">f</text>
<text transform="translate(260.27,915.70) scale(1.213,1.188)" x="0" y="8.97" font-size="13" class="m" style="fill:#505050;stroke:none">(</text>
<text x="266.74" y="925.90" font-size="13.5" class="mi">x</text>
<text transform="translate(273.16,915.70) scale(1.124,1.188)" x="0" y="8.97" font-size="13" class="m" style="fill:#505050;stroke:none">)</text>
<text transform="translate(279.71,927.02) scale(1.1,1)" x="0" y="0" font-size="12.5" class="m">=</text>
<text transform="translate(290.42,913.60) scale(1.102,1.270)" x="0" y="9.88" font-size="12.5" class="m">√</text>
<line x1="297.40" y1="914.00" x2="304.10" y2="914.00" stroke="#000" stroke-width="0.8"/>
<text x="297.88" y="925.90" font-size="12.5" class="m">3</text>
<text x="308.64" y="923.36" font-size="14" class="c" style="fill:#f00;stroke:#f00">可化为</text>
<text x="352.20" y="928.00" font-size="15" class="m">2</text>
<text x="360.20" y="928.00" font-size="15" class="m">sin</text>
<text x="378.70" y="928.00" font-size="15" class="m">2</text>
<text x="386.55" y="928.00" font-size="15" class="mi">x</text>
<text transform="translate(396.98,928.00) scale(1.1,1)" x="0" y="0" font-size="15" class="m">=</text>
<text transform="translate(408.99,913.40) scale(1.044,1.250)" x="0" y="11.85" font-size="15" class="m">√</text>
<line x1="417.00" y1="913.85" x2="425.20" y2="913.85" stroke="#000" stroke-width="0.9"/>
<text x="417.55" y="928.00" font-size="15" class="m">3</text>
<text x="428.18" y="920.48" font-size="14" class="c" style="fill:#f00;stroke:#f00">，</text>
<text x="442.04" y="923.36" font-size="14" class="c" style="fill:#f00;stroke:#f00">解得</text>
<text x="75.34" y="965.00" font-size="14" class="mi">x</text>
<text transform="translate(83.63,965.00) scale(1.1,1)" x="0" y="0" font-size="14" class="m">=</text>
<line x1="96.20" y1="961.20" x2="105.00" y2="961.20" stroke="#000" stroke-width="0.9"/>
<text x="97.35" y="958.58" font-size="13" class="m">π</text>
<text x="97.28" y="975.87" font-size="13" class="m">6</text>
<text transform="translate(108.22,965.00) scale(1.12,1)" x="0" y="0" font-size="14" class="m">+</text>
<text x="118.38" y="965.00" font-size="14" class="mi">k</text>
<text x="125.67" y="965.00" font-size="13" class="m">π</text>
<text x="132.88" y="962.80" font-size="14" class="c">，</text>
<text x="146.58" y="965.00" font-size="14" class="mi">k</text>
<text transform="translate(155.38,965.00) scale(1.15,1)" x="0" y="0" font-size="11.5" class="mx">∈</text>
<text x="167.72" y="965.00" font-size="13.5" class="m">Z</text>
<text x="178.98" y="966.28" font-size="14" class="c" style="fill:#f00;stroke:#f00">，</text>
<text x="193.34" y="970.66" font-size="14" class="c" style="fill:#f00;stroke:#f00">则当</text>
<text x="222.78" y="975.60" font-size="14" class="mi">k</text>
<text transform="translate(232.50,975.20) scale(1.3,1)" x="0" y="0" font-size="13.5" class="m">≥</text>
<text x="244.64" y="975.60" font-size="14" class="m">0</text>
<text x="254.08" y="970.52" font-size="14" class="c" style="fill:#f00;stroke:#f00">时</text>
<text x="268.88" y="966.48" font-size="14" class="c" style="fill:#f00;stroke:#f00">，</text>
<text x="285.14" y="963.80" font-size="14" class="mi">x</text>
<text transform="translate(292.83,963.80) scale(1.1,1)" x="0" y="0" font-size="14" class="m">=</text>
<line x1="306.00" y1="961.20" x2="315.00" y2="961.20" stroke="#000" stroke-width="0.9"/>
<text x="307.25" y="954.38" font-size="13" class="m">π</text>
<text x="307.19" y="975.87" font-size="13" class="m">6</text>
<text x="317.04" y="966.00" font-size="14" class="m">,</text>
<line x1="323.00" y1="961.20" x2="338.80" y2="961.20" stroke="#000" stroke-width="0.9"/>
<text x="324.07" y="956.85" font-size="13" class="m">7π</text>
<text x="327.58" y="975.87" font-size="13" class="m">6</text>
<text x="340.04" y="966.00" font-size="14" class="m">,</text>
<line x1="345.50" y1="961.20" x2="368.00" y2="961.20" stroke="#000" stroke-width="0.9"/>
<text x="346.48" y="956.98" font-size="13" class="m">13π</text>
<text x="353.44" y="975.87" font-size="13" class="m">6</text>
<text x="369.64" y="966.00" font-size="14" class="m">,</text>
<line x1="374.80" y1="961.20" x2="397.00" y2="961.20" stroke="#000" stroke-width="0.9"/>
<text x="375.63" y="956.98" font-size="13" class="m">19π</text>
<text x="382.58" y="975.87" font-size="13" class="m">6</text>
<text x="398.84" y="966.00" font-size="14" class="m">,</text>
<text transform="translate(403.42,965.44) scale(1.35,1)" x="0" y="0" font-size="12" class="dsans">⋯</text>
<text x="419.38" y="966.88" font-size="14" class="c" style="fill:#f00;stroke:#f00">，</text>
<text x="72.14" y="1016.36" font-size="14" class="c" style="fill:#f00;stroke:#f00">当</text>
<text x="89.14" y="1013.00" font-size="14" class="mi">x</text>
<text transform="translate(101.85,1014.33) scale(1.15,1)" x="0" y="0" font-size="13" class="m">=</text>
<line x1="118.00" y1="1009.80" x2="127.00" y2="1009.80" stroke="#000" stroke-width="0.9"/>
<text x="119.06" y="1023.37" font-size="13.5" class="m">3</text>
<text x="120.12" y="1002.87" font-size="9.5" class="m">π</text>
<text transform="translate(132.28,1013.00) scale(1.1,1)" x="0" y="0" font-size="13" class="m">+</text>
<text x="145.58" y="1013.00" font-size="14" class="mi">k</text>
<text x="153.88" y="1011.68" font-size="11.5" class="m">π</text>
<text x="165.58" y="1012.40" font-size="13" class="m">,</text>
<text x="178.38" y="1013.00" font-size="14" class="mi">k</text>
<text transform="translate(192.61,1013.30) scale(1.15,1)" x="0" y="0" font-size="9.5" class="mx">∈</text>
<text x="207.25" y="1012.90" font-size="15" class="s">Z</text>
<text x="216.28" y="1016.50" font-size="14" class="c" style="fill:#f00;stroke:#f00">时，方程</text>
<text x="276.52" y="1021.52" font-size="12" class="mxi">f</text>
<text transform="translate(284.57,1011.20) scale(1.213,1.188)" x="0" y="8.97" font-size="13" class="m" style="fill:#505050;stroke:none">(</text>
<text x="291.04" y="1021.40" font-size="13.5" class="mi">x</text>
<text transform="translate(297.46,1011.20) scale(1.124,1.188)" x="0" y="8.97" font-size="13" class="m" style="fill:#505050;stroke:none">)</text>
<text transform="translate(304.01,1022.52) scale(1.1,1)" x="0" y="0" font-size="12.5" class="m">=</text>
<text transform="translate(314.72,1009.10) scale(1.102,1.270)" x="0" y="9.88" font-size="12.5" class="m">√</text>
<line x1="321.70" y1="1009.50" x2="328.40" y2="1009.50" stroke="#000" stroke-width="0.8"/>
<text x="322.18" y="1021.40" font-size="12.5" class="m">3</text>
<text x="331.64" y="1016.56" font-size="14" class="c" style="fill:#f00;stroke:#f00">可化为</text>
<text x="376.05" y="1021.80" font-size="15" class="m">tan</text>
<text x="395.65" y="1021.80" font-size="15" class="mi">x</text>
<text transform="translate(405.18,1021.80) scale(1.1,1)" x="0" y="0" font-size="15" class="m">=</text>
<text transform="translate(416.99,1007.50) scale(1.019,1.225)" x="0" y="11.85" font-size="15" class="m">√</text>
<line x1="424.80" y1="1007.95" x2="433.00" y2="1007.95" stroke="#000" stroke-width="0.9"/>
<text x="425.75" y="1021.80" font-size="15" class="m">3</text>
<text x="437.18" y="1014.48" font-size="14" class="c" style="fill:#f00;stroke:#f00">，</text>
<text x="450.64" y="1016.56" font-size="14" class="c" style="fill:#f00;stroke:#f00">解得</text>
<text x="481.14" y="1013.00" font-size="14" class="mi">x</text>
<text transform="translate(493.85,1014.33) scale(1.15,1)" x="0" y="0" font-size="13" class="m">=</text>
<line x1="510.00" y1="1009.80" x2="519.00" y2="1009.80" stroke="#000" stroke-width="0.9"/>
<text x="511.06" y="1023.37" font-size="13.5" class="m">3</text>
<text x="512.12" y="1002.87" font-size="9.5" class="m">π</text>
<text transform="translate(524.28,1013.00) scale(1.1,1)" x="0" y="0" font-size="13" class="m">+</text>
<text x="537.58" y="1013.00" font-size="14" class="mi">k</text>
<text x="545.88" y="1011.68" font-size="11.5" class="m">π</text>
<text x="557.58" y="1012.40" font-size="13" class="m">,</text>
<text x="570.38" y="1013.00" font-size="14" class="mi">k</text>
<text transform="translate(584.61,1013.30) scale(1.15,1)" x="0" y="0" font-size="9.5" class="mx">∈</text>
<text x="599.25" y="1012.90" font-size="15" class="s">Z</text>
<text x="608.78" y="1014.28" font-size="14" class="c" style="fill:#f00;stroke:#f00">，</text>
</g>
</svg>
</body></html>
